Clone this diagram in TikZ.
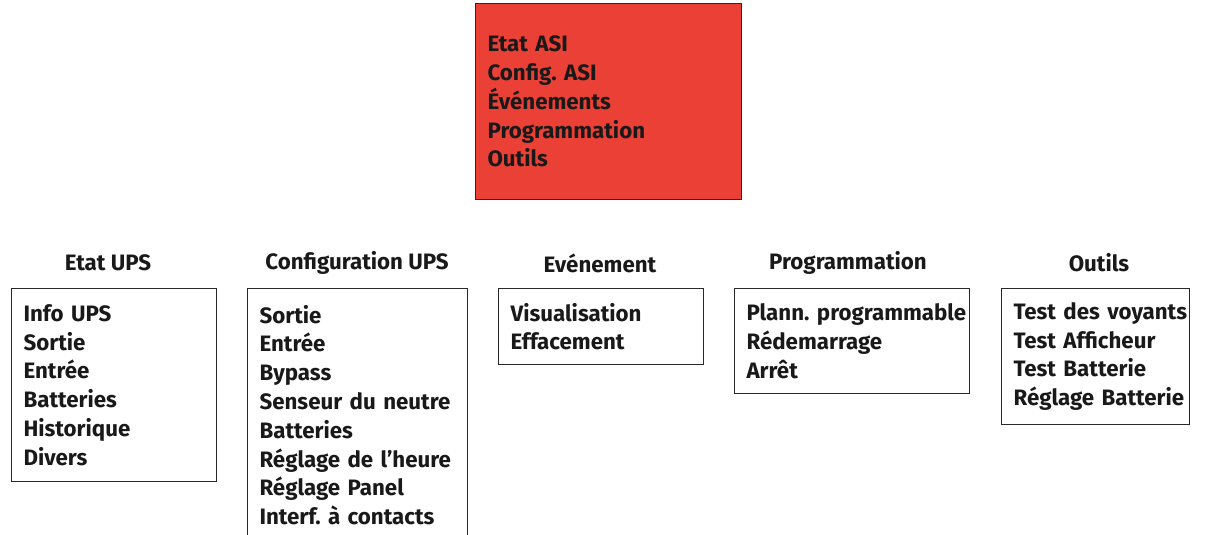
\documentclass[tikz,border=0pt]{standalone}
\usepackage{fontspec}
\setmainfont{Fira Sans}
\frenchspacing
\hyphenpenalty=10000
\hbadness=10000
\hfuzz=50pt
\definecolor{menured}{RGB}{234, 64, 54}
\definecolor{framegray}{RGB}{40, 40, 40}
\usepackage{tikz}
\usetikzlibrary{positioning}

\begin{document}
\begin{tikzpicture}[x=1pt, y=-1pt,
    menu/.style={draw=framegray, line width=1.1pt, anchor=north west, align=left,
      inner xsep=12pt, inner ysep=0pt, text=black!90,
      font=\fontsize{22.3}{28.8}\selectfont\bfseries},
    head/.style={text=black!90, font=\fontsize{22.3}{28.8}\selectfont\bfseries}]
  \useasboundingbox (0, 0) rectangle (1211, 535);

  % main menu
  \node[menu, fill=menured, minimum width=266pt, minimum height=196pt, text width=242pt]
    (main) at (475, 3) {Etat ASI\\Config. ASI\\Événements\\Programmation\\Outils};

  % sub menus
  \node[menu, minimum width=205pt, minimum height=193pt, text width=181pt]
    (etat) at (11, 288) {Info UPS\\Sortie\\Entrée\\Batteries\\Historique\\Divers};
  \node[menu, minimum width=220pt, minimum height=253pt, text width=196pt]
    (config) at (247, 288) {Sortie\\Entrée\\Bypass\\Senseur~du~neutre\\Batteries\\Réglage~de~l’heure\\Réglage Panel\\Interf. à contacts};
  \node[menu, minimum width=205pt, minimum height=76pt, text width=181pt]
    (event) at (498, 288) {Visualisation\\Effacement};
  \node[menu, minimum width=235pt, minimum height=105pt, text width=211pt]
    (prog) at (734, 288) {Plann.~programmable\\Rédemarrage\\Arrêt};
  \node[menu, minimum width=188pt, minimum height=136pt, text width=164pt]
    (outils) at (1001, 288) {Test~des~voyants\\Test Afficheur\\Test Batterie\\Réglage~Batterie};

  % headings
  \node[head] (etath) at (108, 263) {Etat UPS};
  \node[head] (configh) at (357, 263) {Configuration UPS};
  \node[head] (eventh) at (600, 263) {Evénement};
  \node[head] (progh) at (848, 263) {Programmation};
  \node[head] (outilsh) at (1099, 263) {Outils};
\end{tikzpicture}
\end{document}
